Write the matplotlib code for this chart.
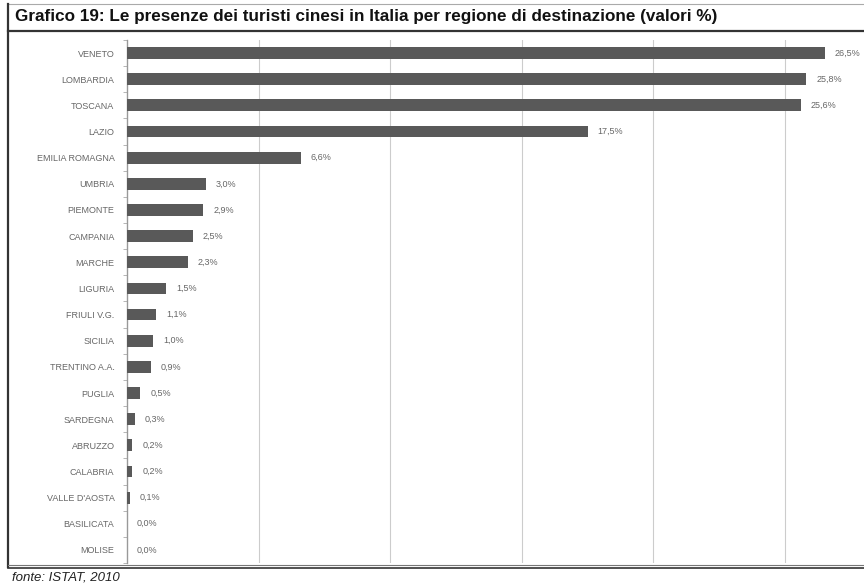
import matplotlib.pyplot as plt
import numpy as np
from matplotlib.lines import Line2D

plt.rcParams['font.family'] = ['Liberation Sans', 'DejaVu Sans']

regions = ['VENETO', 'LOMBARDIA', 'TOSCANA', 'LAZIO', 'EMILIA ROMAGNA', 'UMBRIA',
           'PIEMONTE', 'CAMPANIA', 'MARCHE', 'LIGURIA', 'FRIULI V.G.', 'SICILIA',
           'TRENTINO A.A.', 'PUGLIA', 'SARDEGNA', 'ABRUZZO', 'CALABRIA',
           "VALLE D'AOSTA", 'BASILICATA', 'MOLISE']
values = [26.5, 25.8, 25.6, 17.5, 6.6, 3.0, 2.9, 2.5, 2.3, 1.5,
          1.1, 1.0, 0.9, 0.5, 0.3, 0.2, 0.2, 0.1, 0.0, 0.0]
labels = [f'{v:.1f}%'.replace('.', ',') for v in values]

fig = plt.figure(figsize=(8.64, 5.83), dpi=100)
ax = fig.add_axes([127/864, 20/583, 1 - 127/864, 523/583])

y = np.arange(len(regions))
ax.barh(y, values, height=0.45, color='#595959', zorder=3)
ax.set_ylim(len(regions) - 0.5, -0.5)
ax.set_xlim(0, 28.0)

for yi, v, lab in zip(y, values, labels):
    ax.text(v + 0.38, yi, lab, va='center', ha='left', fontsize=6.5, color='#666666')

ax.set_yticks(y)
ax.set_yticklabels(regions, fontsize=6.5, color='#666666')
ax.set_yticks(np.arange(len(regions) + 1) - 0.5, minor=True)
ax.tick_params(axis='y', which='major', length=0, pad=9)
ax.tick_params(axis='y', which='minor', length=3, color='#aaaaaa', direction='out')
ax.set_xticks([5, 10, 15, 20, 25])
ax.tick_params(axis='x', length=0, labelbottom=False)
ax.grid(axis='x', color='#cccccc', linewidth=0.8, zorder=0)
for s in ['top', 'right', 'bottom']:
    ax.spines[s].set_visible(False)
ax.spines['left'].set_color('#999999')
ax.spines['left'].set_linewidth(1.0)

# frame around the chart
fig.add_artist(Line2D([8/864, 1], [1 - 4/583] * 2, color='#aaaaaa', lw=0.8))
fig.add_artist(Line2D([8/864, 1], [1 - 31/583] * 2, color='#333333', lw=1.6))
fig.add_artist(Line2D([8/864, 8/864], [1 - 4/583, 1 - 567/583], color='#333333', lw=1.6))
fig.add_artist(Line2D([8/864, 1], [1 - 565/583] * 2, color='#777777', lw=0.8))
fig.add_artist(Line2D([8/864, 1], [1 - 568/583] * 2, color='#333333', lw=1.2))

fig.text(15/864, 1 - 17/583, 'Grafico 19: Le presenze dei turisti cinesi in Italia per regione di destinazione (valori %)',
         fontsize=12.3, fontweight='bold', va='center', ha='left', color='#111111')
fig.text(12/864, 1 - 577/583, 'fonte: ISTAT, 2010', fontsize=9.5, style='italic',
         va='center', ha='left', color='#222222')

fig.savefig('out.png', dpi=100)
